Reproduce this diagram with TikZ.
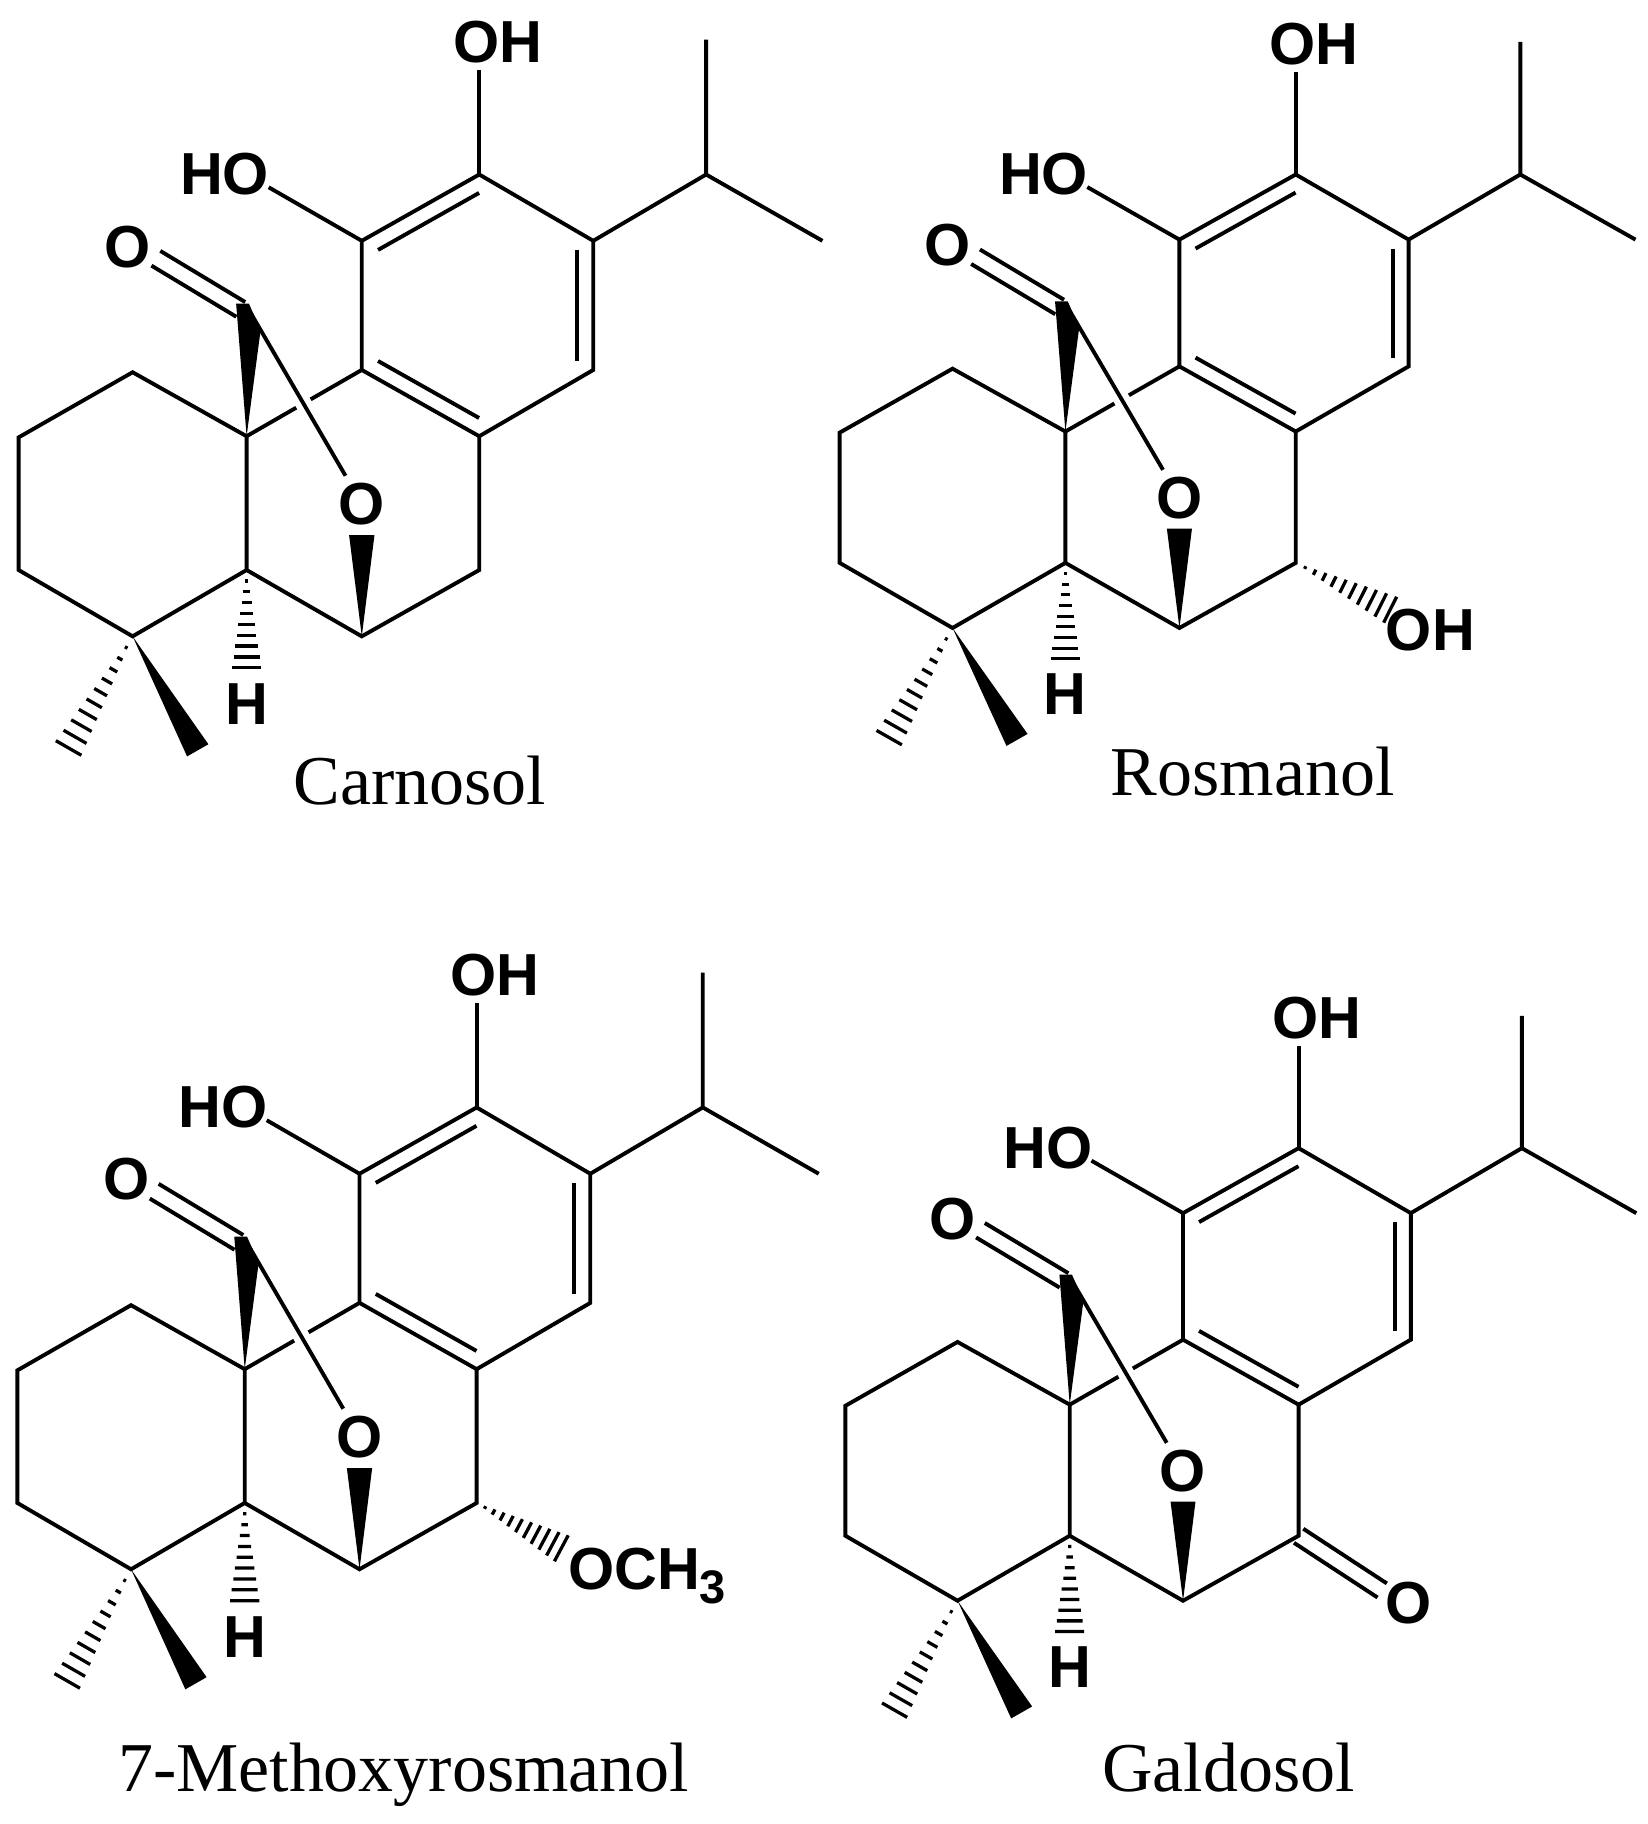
\documentclass[tikz,border=0pt]{standalone}
\usepackage{fontspec}
\setmainfont{Liberation Serif}
\newfontfamily\atomfont{Liberation Sans}[BoldFont={Liberation Sans Bold}]
\usetikzlibrary{calc}
\usetikzlibrary{positioning}
\tikzstyle{bond} = [line width=0.95pt, line join=miter]
\tikzstyle{atom} = [font=\atomfont\bfseries\fontsize{14.5}{16}\selectfont, inner sep=1.5pt]
\tikzstyle{caption} = [font=\fontsize{17.1}{20}\selectfont, inner sep=0pt, anchor=base]
\newcommand{\innerbond}[2]{\draw[bond] ($(#1)!.14!(ctr)$) -- ($(#2)!.14!(ctr)$);}
\newcommand{\dblbond}[2]{
    \draw[bond] ($(#1)!2.1pt!90:(#2)$) -- ($(#2)!2.1pt!-90:(#1)$);
    \draw[bond] ($(#1)!2.1pt!-90:(#2)$) -- ($(#2)!2.1pt!90:(#1)$);
}
\newcommand{\wedgebond}[3]{\fill (#1) -- ($(#2)!#3!90:(#1)$) -- ($(#2)!#3!-90:(#1)$) -- cycle;}
\newcommand{\hashbond}[3]{
    \foreach \i in {1,...,#3} {
        \pgfmathsetmacro{\f}{\i/#3}
        \coordinate (hp) at ($(#1)!\f!(#2)$);
        \draw[line width=0.8pt] ($(hp)!\f*3.6pt!90:(#1)$) -- ($(hp)!\f*3.6pt!-90:(#1)$);
    }
}
\newcommand{\skeleton}{
    \coordinate (c1) at (412,150);
    \coordinate (c2) at (510,207);
    \coordinate (c3) at (510,318);
    \coordinate (c4) at (412,375);
    \coordinate (c5) at (311,318);
    \coordinate (c6) at (311,207);
    \coordinate (ctr) at (411,263);
    \coordinate (c7) at (412,490);
    \coordinate (c8) at (311,547);
    \coordinate (c9) at (212,490);
    \coordinate (c10) at (212,375);
    \coordinate (c11) at (114,320);
    \coordinate (c12) at (16,376);
    \coordinate (c13) at (16,490);
    \coordinate (c14) at (114,547);
    \coordinate (c20) at (212,263);
    \coordinate (ip) at (607,150);
    \coordinate (me1) at (607,34);
    \coordinate (me2) at (707,207);
    \coordinate (me3) at (59,643);
    \coordinate (me4) at (170,645);
    \coordinate (hoend) at (231,161);
    \coordinate (oxostart) at (207,266);
    \coordinate (oxoend) at (134,222);
    \coordinate (hend) at (212,574);
    \coordinate (wedgeend) at (311,460);
    \coordinate (wedgea) at (203,261);
    \coordinate (wedgeb) at (214,261);
    \coordinate (wedgec) at (224,284);
    \node[atom] (oh1) at (428,36) {OH};
    \node[atom] (oh2) at (193,150) {HO};
    \node[atom] (oxo) at (110,212) {O};
    \node[atom] (ox) at (311,433) {O};
    \node[atom] (hh) at (212,605) {H};
    \draw[bond] (c1) -- (c2) -- (c3) -- (c4) -- (c5) -- (c6) -- cycle;
    \innerbond{c1}{c6}
    \innerbond{c2}{c3}
    \innerbond{c4}{c5}
    \draw[bond] (c1) -- (c1|-oh1.south);
    \draw[bond] (c6) -- (hoend);
    \draw[bond] (c2) -- (ip) -- (me1);
    \draw[bond] (ip) -- (me2);
    \draw[bond] (c4) -- (c7) -- (c8) -- (c9) -- (c10) -- (c11) -- (c12) -- (c13) -- (c14) -- (c9);
    \draw[bond] (c10) -- (c5);
    \draw[white, line width=4pt] (c20) -- (ox);
    \draw[bond] (c20) -- (ox);
    \dblbond{oxostart}{oxoend}
    \fill (c10) -- (wedgea) -- (wedgeb) -- (wedgec) -- cycle;
    \wedgebond{c8}{wedgeend}{3.1pt}
    \wedgebond{c14}{me4}{3pt}
    \hashbond{c9}{hend}{9}
    \hashbond{c14}{me3}{10}
}

\begin{document}
\begin{tikzpicture}[x=0.01cm, y=-0.01cm]
    \useasboundingbox (0,0) rectangle (1416,1568);

    \begin{scope}[name prefix=car-]
        \skeleton
    \end{scope}
    \node[caption] (carnosol) at (361,692) {Carnosol};

    \begin{scope}[name prefix=ros-, shift={(706,2.7)}, xscale=0.99, yscale=0.982]
        \skeleton
        \coordinate (hoh) at (494,531);
        \node[atom] (oh3) at (529,549) {OH};
        \hashbond{c7}{hoh}{10}
    \end{scope}
    \node[caption] (rosmanol) at (1077,684) {Rosmanol};

    \begin{scope}[name prefix=met-, shift={(-1,802)}, xscale=0.997]
        \skeleton
        \coordinate (home) at (485,529);
        \node[atom] (och) at (559,553) {OCH\raisebox{-3.5pt}{\fontsize{11.5}{12}\selectfont 3}};
        \hashbond{c7}{home}{10}
    \end{scope}
    \node[caption] (methoxy) at (347,1540) {7-Methoxyrosmanol};

    \begin{scope}[name prefix=gal-, shift={(711,840)}, xscale=0.984, yscale=0.98]
        \skeleton
        \coordinate (ketend) at (485,538);
        \node[atom] (keto) at (508,549) {O};
        \dblbond{c7}{ketend}
    \end{scope}
    \node[caption] (galdosol) at (1056,1540) {Galdosol};
\end{tikzpicture}
\end{document}
